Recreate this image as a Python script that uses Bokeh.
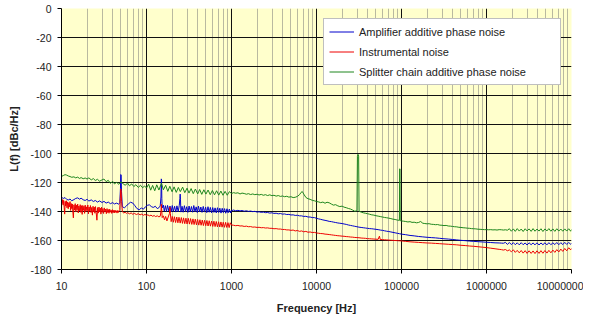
from bokeh.plotting import figure
from bokeh.models import FixedTicker, Legend, LegendItem
from bokeh.embed import file_html
from bokeh.resources import INLINE

# ---------------- data ----------------
x_tick_values = [10, 100, 1000, 10000, 100000, 1000000, 10000000]
x_tick_labels = ["10", "100", "1000", "10000", "100000", "1000000", "10000000"]
y_tick_values = [-180, -160, -140, -120, -100, -80, -60, -40, -20, 0]
y_tick_labels = ["-180", "-160", "-140", "-120", "-100", "-80", "-60", "-40", "-20", "0"]

series_names = ["Amplifier additive phase noise", "Instrumental noise",
                "Splitter chain additive phase noise"]

# Amplifier additive phase noise (blue): (frequency Hz, L(f) dBc/Hz)
amp_points = [
    (10, -130.2), (10.5, -131.0), (11, -130.4), (11.5, -131.6), (12, -132.1), (12.6, -131.4),
    (13.2, -132.6), (14, -131.8), (14.7, -131.0), (15.5, -130.6), (16.3, -131.5), (17, -130.8),
    (18, -131.9), (19, -132.4), (20, -131.6), (21, -132.8), (22.4, -132.0), (23.7, -133.1),
    (25, -132.4), (26.5, -133.5), (28, -132.7), (30, -133.8), (31.6, -133.0), (33.5, -134.2),
    (35.5, -133.5), (37.6, -134.6), (40, -133.9), (42, -134.8), (44.7, -134.2), (47, -135.0),
    (48.5, -134.0), (49.4, -124.0), (49.8, -114.5), (50.3, -114.8), (50.8, -126.0), (52, -136.8),
    (55, -137.4), (58, -136.2), (61, -134.8), (65, -133.6), (69, -134.2), (73, -136.0),
    (77, -137.9), (82, -138.8), (87, -137.6), (92, -138.4), (97, -136.8), (103, -135.7),
    (108, -135.4), (114, -136.6), (120, -137.2), (127, -136.4), (134, -138.0), (140, -137.4),
    (145, -136.2), (148, -130.0), (149.2, -117.5), (150.3, -118.2), (151.5, -131.0),
    (153, -137.5), (158, -135.6), (162, -139.8), (167, -136.0), (172, -140.0), (177, -135.8),
    (183, -139.6), (189, -136.2), (195, -140.2), (201, -135.9), (207, -139.9), (214, -136.4),
    (221, -140.4), (228, -136.1), (236, -140.1), (243, -135.8), (247, -131.0), (249, -128.0),
    (251, -131.5), (254, -140.4), (262, -136.4), (270, -140.5), (279, -136.0), (288, -140.0),
    (297, -136.7), (307, -140.6), (317, -136.2), (327, -140.2), (338, -136.6), (349, -140.5),
    (360, -135.9), (372, -140.1), (384, -136.8), (396, -140.7), (409, -136.3), (422, -140.3),
    (436, -136.9), (450, -140.6), (465, -136.5), (480, -140.4), (496, -137.0), (512, -140.8),
    (529, -136.7), (546, -140.5), (564, -137.2), (582, -140.9), (601, -137.3), (621, -140.6),
    (641, -137.5), (662, -141.0), (684, -137.4), (706, -140.7), (729, -137.7), (753, -141.1),
    (778, -137.8), (803, -140.8), (829, -138.0), (856, -141.2), (884, -138.1), (913, -140.9),
    (943, -138.3), (974, -141.0), (1000, -139.4),
    (1060, -139.0), (1120, -139.5), (1190, -139.2), (1260, -139.6), (1330, -139.3), (1410, -139.8),
    (1500, -139.5), (1580, -139.9), (1680, -139.7), (1780, -140.1), (1880, -139.9), (2000, -140.4),
    (2110, -140.2), (2240, -140.6), (2370, -140.4), (2510, -140.8), (2660, -140.7), (2820, -141.1),
    (2990, -140.9), (3160, -141.3), (3350, -141.2), (3550, -141.6), (3760, -141.4), (3980, -141.8),
    (4220, -141.7), (4470, -142.1), (4730, -142.0), (5010, -142.4), (5310, -142.3), (5620, -142.7),
    (5960, -142.6), (6310, -143.0), (6680, -143.0), (7080, -143.4), (7500, -143.3), (7940, -143.8),
    (8410, -143.8), (8910, -144.2), (9440, -144.2), (10000, -144.7),
    (10600, -145.1), (11200, -145.4), (11900, -145.8), (12600, -146.1), (13300, -146.4),
    (14100, -146.8), (15000, -147.0), (15800, -147.3), (16800, -147.6), (17800, -147.9),
    (18800, -148.1), (20000, -148.3), (21100, -148.6), (22400, -148.9), (23700, -149.3),
    (25100, -149.6), (26600, -149.9), (28200, -150.2), (29900, -150.5), (31600, -150.8),
    (33500, -151.0), (35500, -151.2), (37600, -151.4), (39800, -151.6), (42200, -151.8),
    (44700, -151.9), (47300, -152.1), (50100, -152.3), (53100, -152.5), (56200, -152.8),
    (59600, -153.0), (63100, -153.3), (66800, -153.6), (70800, -153.8), (75000, -154.1),
    (79400, -154.4), (84100, -154.7), (89100, -155.0), (94400, -155.3), (100000, -155.6),
    (112000, -156.0), (126000, -156.5), (141000, -156.8), (158000, -157.2), (178000, -157.5),
    (200000, -157.8), (224000, -158.0), (251000, -158.2), (282000, -158.5), (316000, -158.8),
    (355000, -159.0), (398000, -159.3), (447000, -159.6), (501000, -159.9), (562000, -160.1),
    (631000, -160.4), (708000, -160.6), (794000, -160.8), (891000, -161.0), (1000000, -161.2),
    (1120000, -161.4), (1260000, -161.6), (1410000, -161.7),
    (1500000, -161.8), (1580000, -161.9), (1670000, -161.3), (1760000, -162.7), (1860000, -161.4),
    (1960000, -162.8), (2070000, -161.5), (2180000, -162.9), (2300000, -161.6), (2430000, -163.0),
    (2560000, -161.5), (2700000, -162.9), (2850000, -161.7), (3000000, -163.1), (3170000, -161.6),
    (3350000, -162.9), (3530000, -161.7), (3720000, -163.0), (3930000, -161.6), (4150000, -163.1),
    (4370000, -161.7), (4610000, -162.9), (4870000, -161.6), (5140000, -163.0), (5420000, -161.5),
    (5720000, -162.9), (6040000, -161.6), (6370000, -162.8), (6720000, -161.4), (7090000, -162.9),
    (7480000, -161.5), (7900000, -162.8), (8330000, -161.3), (8790000, -162.7), (9280000, -161.4),
    (9790000, -162.6), (10000000, -161.9),
]

# Instrumental noise (red)
inst_points = [
    (10, -131.0), (10.15, -134.5), (10.3, -131.8), (10.45, -135.6), (10.6, -132.3), (10.75, -137.0),
    (10.9, -141.8), (11.05, -133.0), (11.2, -136.2), (11.4, -132.6), (11.6, -137.4), (11.8, -133.4),
    (12.0, -138.1), (12.2, -134.0), (12.4, -136.8), (12.6, -133.2), (12.8, -139.3), (13.0, -134.5),
    (13.2, -138.0), (13.4, -134.8), (13.6, -140.2), (13.8, -144.4), (14.0, -135.4), (14.25, -139.0),
    (14.5, -134.6), (14.75, -140.1), (15.0, -135.7), (15.25, -138.8), (15.5, -134.9), (15.75, -141.0),
    (16.0, -136.2), (16.3, -139.5), (16.6, -135.3), (16.9, -140.6), (17.2, -136.0), (17.5, -142.0),
    (17.8, -135.8), (18.1, -139.2), (18.4, -136.4), (18.7, -141.3), (19.0, -135.6), (19.35, -140.0),
    (19.7, -136.8), (20.05, -139.4), (20.4, -135.5), (20.75, -141.6), (21.1, -136.9), (21.5, -139.8),
    (21.9, -135.9), (22.3, -140.7), (22.7, -137.2), (23.1, -142.5), (23.5, -136.4), (23.9, -140.2),
    (24.3, -137.0), (24.7, -141.2), (25.1, -136.6), (25.6, -140.9), (26.1, -146.0), (26.6, -137.3),
    (27.1, -141.1), (27.6, -136.9), (28.1, -140.3), (28.6, -137.6), (29.1, -141.8), (29.6, -137.0),
    (30.1, -140.6), (30.7, -138.0), (31.3, -141.4), (31.9, -137.5), (32.5, -140.2), (33.1, -138.3),
    (33.7, -141.5), (34.3, -138.0), (34.9, -140.7), (35.5, -138.6), (36.2, -141.2), (36.9, -138.4),
    (37.6, -140.5), (38.3, -139.0), (39.0, -141.3), (39.7, -138.7), (40.4, -140.8), (41.1, -139.2),
    (41.8, -141.0), (42.6, -139.0), (43.4, -140.6), (44.2, -139.5), (45.0, -141.1), (45.8, -139.3),
    (46.6, -140.7), (47.5, -139.6), (48.4, -138.8), (49.2, -131.0), (49.8, -124.5), (50.3, -125.5),
    (50.9, -133.0), (52, -140.2), (54, -141.0),
    (56, -140.5), (58, -141.3), (60, -140.8), (63, -141.6), (66, -141.0), (69, -141.9),
    (72, -141.3), (76, -142.1), (80, -141.5), (84, -142.3), (88, -141.8), (92, -142.6),
    (96, -142.0), (100, -142.7), (104, -142.3), (108, -143.0), (113, -142.5), (118, -143.3),
    (123, -142.8), (128, -143.5), (134, -143.0), (140, -143.7), (145, -143.3), (148, -140.0),
    (149.5, -135.0), (151, -139.0), (153, -144.2), (158, -143.0), (163, -145.8), (168, -143.4),
    (174, -146.5), (180, -143.8), (186, -141.5), (188.5, -137.0), (191, -141.5),
    (195, -147.0), (201, -143.4), (207, -147.4), (213, -143.6), (220, -147.6), (227, -143.8),
    (234, -147.8), (241, -144.0), (249, -148.0), (257, -144.2), (265, -148.2), (273, -144.4),
    (282, -148.4), (291, -144.6), (300, -148.6), (310, -144.7), (320, -148.7), (330, -144.9),
    (341, -148.9), (352, -145.1), (363, -149.0), (375, -145.3), (387, -149.2), (399, -145.5),
    (412, -149.4), (425, -145.7), (439, -149.5), (453, -145.9), (467, -149.7), (482, -146.1),
    (498, -149.8), (514, -146.2), (530, -150.0), (547, -146.4), (565, -150.1), (583, -146.6),
    (602, -150.3), (621, -146.7), (641, -150.4), (662, -146.9), (683, -150.6), (705, -147.1),
    (728, -150.7), (751, -147.2), (775, -150.8), (800, -147.4), (826, -150.9), (853, -147.5),
    (880, -151.0), (909, -147.7), (938, -151.1), (968, -147.8), (1000, -149.3),
    (1060, -149.5), (1120, -149.8), (1190, -149.6), (1260, -150.0), (1330, -149.9), (1410, -150.3),
    (1500, -150.1), (1580, -150.5), (1680, -150.4), (1780, -150.8), (1880, -150.7), (2000, -151.0),
    (2110, -150.9), (2240, -151.2), (2370, -151.1), (2510, -151.4), (2660, -151.3), (2820, -151.6),
    (2990, -151.6), (3160, -151.9), (3350, -151.8), (3550, -152.1), (3760, -152.1), (3980, -152.4),
    (4220, -152.4), (4470, -152.7), (4730, -152.7), (5010, -153.0), (5310, -152.8), (5620, -153.4),
    (5960, -153.1), (6310, -153.7), (6680, -153.4), (7080, -154.0), (7500, -153.7), (7940, -154.3),
    (8410, -154.1), (8910, -154.5), (9440, -154.4), (10000, -154.8),
    (10600, -155.0), (11200, -155.2), (11900, -155.3), (12600, -155.6), (13300, -155.7),
    (14100, -155.9), (15000, -156.1), (15800, -156.3), (16800, -156.5), (17800, -156.7),
    (18800, -156.8), (20000, -157.0), (21100, -157.1), (22400, -157.3), (23700, -157.4),
    (25100, -157.6), (26600, -157.7), (28200, -157.9), (29900, -158.0), (31600, -158.1),
    (33500, -158.3), (35500, -158.4), (37600, -158.5), (39800, -158.7), (42200, -158.8),
    (44700, -158.9), (47300, -159.0), (50100, -159.1), (53100, -159.2), (55000, -157.0),
    (56200, -159.3), (59600, -159.4), (63100, -159.5), (66800, -159.6), (70800, -159.7),
    (75000, -159.8), (79400, -159.9), (84100, -160.0), (89100, -160.1), (94400, -160.2),
    (100000, -160.3), (112000, -160.6), (126000, -160.9), (141000, -161.1), (158000, -161.3),
    (178000, -161.5), (200000, -161.7), (224000, -161.8), (251000, -162.0), (282000, -162.2),
    (316000, -162.4), (355000, -162.6), (398000, -162.8), (447000, -163.0), (501000, -163.3),
    (562000, -163.5), (631000, -163.8), (708000, -164.0), (794000, -164.3), (891000, -164.6),
    (1000000, -164.9), (1120000, -165.3), (1260000, -165.7), (1410000, -166.1),
    (1500000, -166.3), (1580000, -166.6), (1670000, -166.2), (1760000, -167.1), (1860000, -166.5),
    (1960000, -167.8), (2070000, -166.4), (2180000, -168.2), (2300000, -166.8), (2430000, -168.5),
    (2560000, -166.9), (2700000, -168.7), (2850000, -167.0), (3000000, -168.9), (3170000, -167.1),
    (3350000, -168.9), (3530000, -167.2), (3720000, -169.0), (3930000, -167.1), (4150000, -168.9),
    (4370000, -167.0), (4610000, -168.8), (4870000, -166.9), (5140000, -168.7), (5420000, -166.8),
    (5720000, -168.5), (6040000, -166.6), (6370000, -168.2), (6720000, -166.3), (7090000, -167.9),
    (7480000, -165.9), (7900000, -167.5), (8330000, -165.5), (8790000, -167.1), (9280000, -165.0),
    (9790000, -166.5), (10000000, -165.4),
]

# Splitter chain additive phase noise (green)
split_points = [
    (10, -115.8), (10.5, -115.2), (11, -114.6), (11.5, -114.9), (12, -115.5), (12.6, -115.9),
    (13.2, -116.4), (14, -116.1), (14.7, -116.8), (15.5, -116.3), (16.3, -117.2), (17, -116.6),
    (18, -117.4), (19, -116.9), (20, -117.6), (21, -116.8), (22.4, -118.2), (23.7, -117.3),
    (25, -118.6), (26.5, -117.8), (28, -119.1), (30, -118.2), (31.6, -117.6), (33.5, -119.4),
    (35.5, -118.5), (37.6, -120.6), (40, -119.2), (42, -121.0), (44.7, -119.8), (47, -121.3),
    (50, -119.6), (53, -120.8), (56, -121.9), (60, -120.4), (63, -122.3), (67, -121.0),
    (71, -122.8), (75, -121.5), (80, -123.4), (85, -121.9), (90, -123.6), (95, -122.4),
    (100, -123.8), (106, -121.2), (112, -125.3), (118, -122.0), (125, -125.7), (132, -121.6),
    (140, -125.2), (150, -120.5), (158, -125.0), (168, -121.9), (178, -126.1), (188, -122.6),
    (200, -126.4), (211, -123.0), (224, -126.8), (237, -123.4), (250, -126.3), (266, -123.2),
    (282, -127.0), (300, -123.9), (316, -127.3), (335, -124.2), (355, -127.7), (376, -124.5),
    (400, -127.9), (422, -124.8), (447, -128.2), (473, -125.0), (500, -128.0), (530, -125.2),
    (562, -128.4), (596, -125.5), (631, -128.5), (668, -125.7), (708, -128.7), (750, -125.9),
    (794, -128.8), (841, -126.1), (891, -128.8), (944, -126.3), (1000, -127.6),
    (1060, -127.0), (1120, -127.4), (1190, -127.1), (1260, -127.9), (1330, -127.3), (1410, -127.6),
    (1500, -128.1), (1580, -127.7), (1680, -128.3), (1780, -127.9), (1880, -128.4), (2000, -128.1),
    (2110, -128.6), (2240, -128.2), (2370, -128.8), (2510, -128.4), (2660, -129.0), (2820, -128.5),
    (2990, -129.1), (3160, -128.8), (3350, -129.4), (3550, -129.0), (3760, -129.6), (3980, -129.3),
    (4220, -129.8), (4470, -129.5), (4730, -130.1), (5010, -129.8), (5310, -130.4), (5620, -130.2),
    (5960, -129.6), (6310, -128.4), (6600, -126.8), (6800, -126.2), (7080, -128.0), (7500, -130.3),
    (7940, -131.2), (8410, -131.6), (8910, -132.3), (9440, -132.6), (10000, -133.1),
    (10600, -133.4), (11200, -133.9), (11900, -133.5), (12600, -134.3), (13300, -133.6),
    (14100, -134.0), (15000, -134.9), (15800, -135.6), (16800, -135.3), (17800, -136.1),
    (18800, -136.6), (20000, -136.3), (21100, -137.0), (22400, -137.4), (23700, -137.9),
    (25100, -138.3), (26600, -139.0), (28200, -139.8), (29900, -139.5), (30300, -102.0),
    (30800, -100.6), (31300, -101.8), (31700, -139.8), (33500, -140.4), (35500, -140.9),
    (37600, -141.2), (39800, -141.5), (42200, -141.9), (44700, -142.3), (47300, -142.5),
    (50100, -142.9), (53100, -143.2), (56200, -143.5), (59600, -143.8), (63100, -144.1),
    (66800, -144.3), (70800, -144.6), (75000, -144.9), (79400, -145.3), (84100, -145.5),
    (89100, -145.9), (94500, -146.1), (95200, -110.6), (95900, -110.6), (96600, -146.3),
    (100000, -146.5), (106000, -146.7), (112000, -146.9), (119000, -147.2), (126000, -147.0),
    (133000, -147.5), (141000, -147.4), (150000, -147.8), (158000, -147.6), (168000, -146.9),
    (178000, -148.1), (188000, -148.3), (200000, -148.5), (211000, -148.4), (224000, -148.8),
    (237000, -148.9), (251000, -149.1), (266000, -149.0), (282000, -149.4), (299000, -149.5),
    (316000, -149.7), (335000, -149.6), (355000, -150.0), (376000, -150.1), (398000, -150.3),
    (422000, -150.5), (447000, -150.6), (473000, -150.9), (501000, -151.0), (531000, -151.2),
    (562000, -151.3), (596000, -151.5), (631000, -151.6), (668000, -151.8), (708000, -151.9),
    (750000, -152.0), (794000, -152.2), (841000, -152.3), (891000, -152.4), (944000, -152.5),
    (1000000, -152.5), (1060000, -152.6), (1120000, -152.5), (1190000, -152.7), (1260000, -152.6),
    (1330000, -152.8), (1410000, -152.5),
    (1500000, -152.6), (1580000, -152.8), (1670000, -152.6), (1760000, -152.9), (1860000, -151.9),
    (1960000, -153.6), (2070000, -152.0), (2180000, -153.7), (2300000, -151.8), (2430000, -153.5),
    (2560000, -152.1), (2700000, -153.8), (2850000, -151.9), (3000000, -153.4), (3170000, -152.0),
    (3350000, -153.7), (3530000, -151.8), (3720000, -153.6), (3930000, -152.1), (4150000, -153.5),
    (4370000, -151.9), (4610000, -153.8), (4870000, -152.0), (5140000, -153.4), (5420000, -151.8),
    (5720000, -153.6), (6040000, -152.0), (6370000, -153.7), (6720000, -151.9), (7090000, -153.5),
    (7480000, -152.1), (7900000, -153.6), (8330000, -152.0), (8790000, -153.5), (9280000, -151.9),
    (9790000, -153.6), (10000000, -152.4),
]

# ---------------- styling ----------------
FONT = "Liberation Sans"
colors = ["#0000CC", "#EE0000", "#1E861E"]

p = figure(frame_width=510, frame_height=261, x_axis_type="log",
           x_range=(10, 1e7), y_range=(-180, 0),
           output_backend="svg", toolbar_location=None,
           min_border_left=61, min_border_right=12,
           min_border_top=8, min_border_bottom=46,
           background_fill_color="#FFFFCC", border_fill_color="white",
           outline_line_color=None)

minor_x = [m * 10 ** k for k in range(1, 7) for m in range(2, 10)] + [1e7]
p.xgrid.ticker = FixedTicker(ticks=x_tick_values[1:-1], minor_ticks=minor_x)
p.xgrid.grid_line_color = "#111111"
p.xgrid.grid_line_width = 1
p.xgrid.minor_grid_line_color = "#B9B9A0"
p.xgrid.minor_grid_line_width = 1

p.ygrid.ticker = FixedTicker(ticks=y_tick_values[1:-1])
p.ygrid.grid_line_color = "#111111"
p.ygrid.grid_line_width = 1

p.xaxis.ticker = FixedTicker(ticks=x_tick_values, minor_ticks=[])
p.xaxis.major_label_overrides = {v: s for v, s in zip(x_tick_values, x_tick_labels)}
p.yaxis.ticker = FixedTicker(ticks=y_tick_values, minor_ticks=[])
p.yaxis.major_label_overrides = {v: s for v, s in zip(y_tick_values, y_tick_labels)}

for ax in (p.xaxis[0], p.yaxis[0]):
    ax.axis_line_color = "black"
    ax.major_tick_line_color = "black"
    ax.major_tick_out = 4
    ax.major_tick_in = 0
    ax.minor_tick_line_color = None
    ax.major_label_text_font = FONT
    ax.major_label_text_font_size = "10.5px"
    ax.major_label_text_color = "#222222"
    ax.axis_label_text_font = FONT
    ax.axis_label_text_font_size = "11px"
    ax.axis_label_text_font_style = "bold"
    ax.axis_label_text_color = "#222222"

p.xaxis.major_label_standoff = 8
p.xaxis.axis_label = "Frequency [Hz]"
p.xaxis.axis_label_standoff = 9
p.yaxis.major_label_standoff = 6
p.yaxis.axis_label = "L(f) [dBc/Hz]"
p.yaxis.axis_label_standoff = 7

renderers = []
for pts, col in zip([amp_points, inst_points, split_points], colors):
    fx = [f for f, _ in pts]
    ly = [v for _, v in pts]
    r = p.line(fx, ly, line_color=col, line_width=1)
    renderers.append(r)

legend = Legend(items=[LegendItem(label=n, renderers=[r]) for n, r in zip(series_names, renderers)],
                location=(262, 184), orientation="vertical",
                padding=5, spacing=5, margin=0,
                label_height=15, glyph_height=15, glyph_width=25,
                label_standoff=5, label_width=196,
                label_text_font=FONT, label_text_font_size="11px", label_text_color="#222222",
                border_line_color="#808080", border_line_width=1,
                background_fill_color="white", background_fill_alpha=1.0)
p.add_layout(legend)

open("out.html", "w").write(file_html(p, INLINE))
